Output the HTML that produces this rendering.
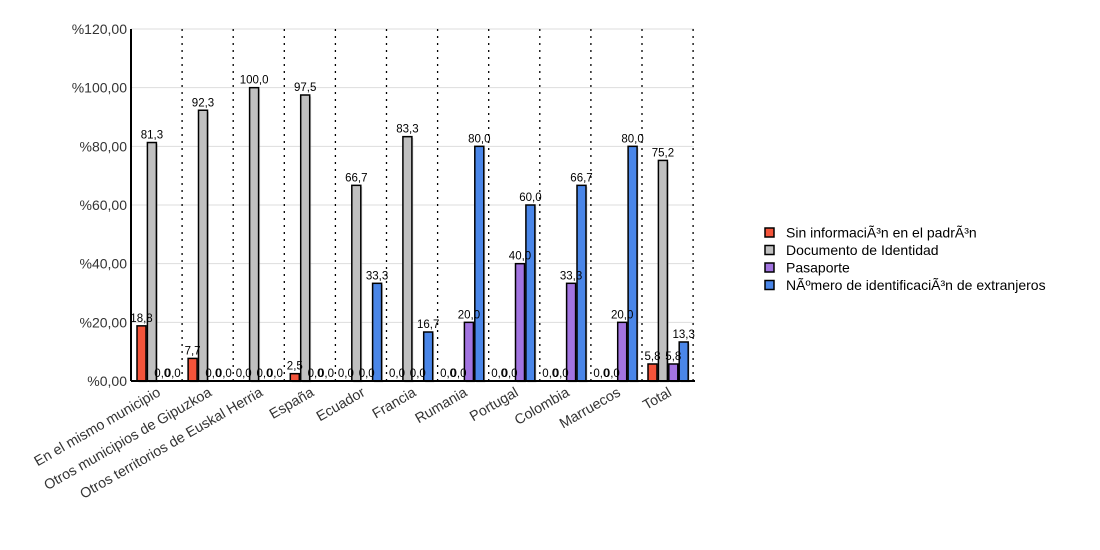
<!DOCTYPE html>
<html><head><meta charset="utf-8"><style>body{margin:0;background:#fff}svg{display:block}text{font-family:"Liberation Sans",sans-serif}</style></head>
<body>
<svg id="s" width="1100" height="550" xmlns="http://www.w3.org/2000/svg"></svg>
<script>
const s=document.getElementById('s');
const cats=["En el mismo municipio","Otros municipios de Gipuzkoa","Otros territorios de Euskal Herria","España","Ecuador","Francia","Rumania","Portugal","Colombia","Marruecos","Total"];
const d=[[18.8,81.3,0,0],[7.7,92.3,0,0],[0,100,0,0],[2.5,97.5,0,0],[0,66.7,0,33.3],[0,83.3,0,16.7],[0,0,20,80],[0,0,40,60],[0,0,33.3,66.7],[0,0,20,80],[5.8,75.2,5.8,13.3]];
const col=["#f4543a","#c0c0c0","#a274e0","#4a86e8"];
const x0=131,y0=381,py=352/120,gw=51.1;
let h='',tx='';
for(let i=1;i<=6;i++){const y=y0-i*20*py;h+=`<line x1="${x0}" x2="694" y1="${y}" y2="${y}" stroke="#ddd" stroke-width="1"/>`;}
for(let i=0;i<=6;i++){const y=y0-i*20*py;h+=`<text x="127" y="${y+5}" font-size="14" fill="#333" text-anchor="end">%${i*20},00</text>`;}
for(let g=1;g<=11;g++){const x=x0+g*gw;h+=`<line x1="${x}" x2="${x}" y1="29" y2="${y0}" stroke="#000" stroke-width="1.3" stroke-dasharray="2,5"/>`;}
d.forEach((r,g)=>{const gx=x0+g*gw;r.forEach((v,k)=>{const bx=gx+6+k*10.4,bh=v*py;
 if(v>0)h+=`<rect x="${bx+1.5}" y="${y0-bh+1.5}" width="9" height="${bh}" fill="#999" opacity="0.35"/><rect x="${bx}" y="${y0-bh}" width="9" height="${bh}" fill="${col[k]}" stroke="#000" stroke-width="1.5"/>`;
 tx+=`<text x="${bx+4.5}" y="${y0-bh-4}" font-size="11.5" text-anchor="middle" fill="#000">${v.toFixed(1).replace('.',',')}</text>`;});
 const cx=gx+gw/2+5;tx+=`<text transform="translate(${cx},395) rotate(-30)" font-size="14.3" fill="#333" text-anchor="end">${cats[g]}</text>`;});
h+=tx;
h+=`<line x1="${x0}" x2="${x0}" y1="29" y2="${y0}" stroke="#000" stroke-width="2"/><line x1="${x0}" x2="695" y1="${y0}" y2="${y0}" stroke="#000" stroke-width="2"/>`;
const lg=["Sin informaciÃ³n en el padrÃ³n","Documento de Identidad","Pasaporte","NÃºmero de identificaciÃ³n de extranjeros"];
lg.forEach((t,i)=>{const y=233+i*17.5;h+=`<rect x="765" y="${y-5}" width="9" height="9" fill="${col[i]}" stroke="#000" stroke-width="1.5"/><text x="786" y="${y+4.5}" font-size="14" fill="#000">${t}</text>`;});
s.innerHTML=h;
</script>
</body></html>
